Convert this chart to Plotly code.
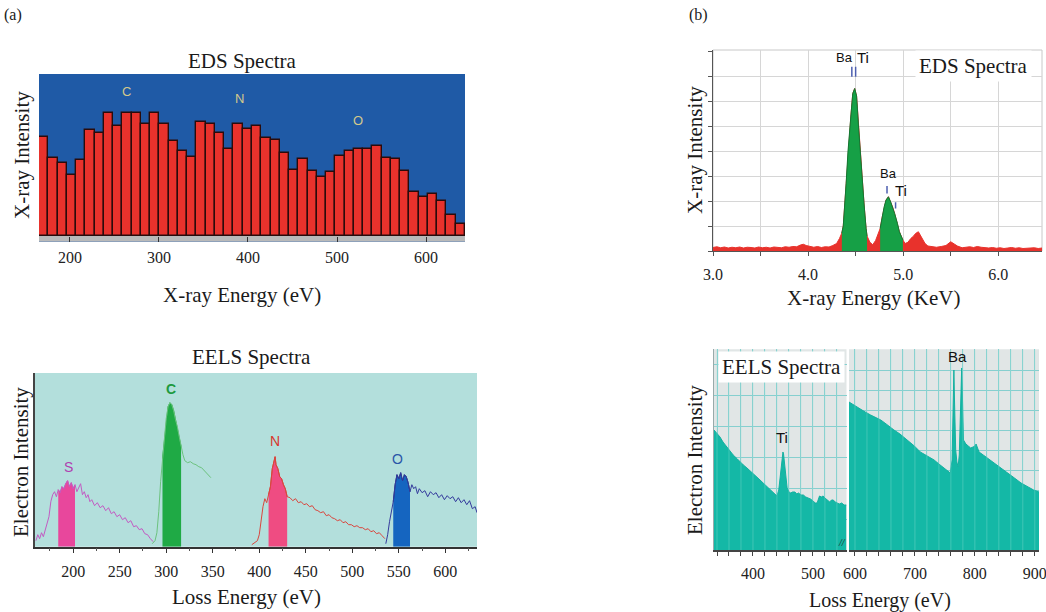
import plotly.graph_objects as go
import numpy as np

W, H = 1046, 612
SERIF = "Liberation Serif"
SANS = "Liberation Sans"

# ---------------- (a) EDS bars ----------------
eds_a_energy = [170.5, 180.9, 191.3, 201.7, 212.1, 222.5, 232.9, 243.3, 253.7, 264.1,
                274.5, 284.9, 295.3, 305.7, 316.1, 326.5, 336.9, 347.3, 357.7, 368.1,
                378.5, 388.9, 399.3, 409.7, 420.1, 430.5, 440.9, 451.3, 461.7, 472.1,
                482.5, 492.9, 503.3, 513.7, 524.1, 534.5, 544.9, 555.3, 565.7, 576.1,
                586.5, 596.9, 607.3, 617.7, 628.1, 638.5]
eds_a_counts = [61.2, 48, 44.7, 37.3, 46.8, 65.4, 63.3, 75.7, 67.8, 75.7,
                75.7, 69, 75.7, 69, 58.8, 52.6, 48.5, 70.1, 69.3, 63.3,
                53.4, 69, 66.3, 67.7, 60.5, 59, 51.3, 40.6, 47.2, 40,
                36.4, 39.5, 49.5, 52.2, 53.4, 53.8, 55.5, 47.8, 47.6, 40,
                26.9, 23.8, 26, 21.3, 12.6, 7.2]
eds_a_labels = ["C", "N", "O"]
eds_a_label_x = [264, 390, 524]
eds_a_label_y = [89, 85, 71]

# ---------------- (a) EELS curves ----------------
S_x = [160,162,164,166,168,170,172,174,176,178,180,182,184,186,188,190,192,194,196,198,200,202,204,206,208,210,212,214,216,218,220,223,226,229,232,235,238,241,244,247,250,253,256,259,262,265,268,271,274,277,280,283,286]
S_y = [6,12,8,14,10,16,22,30,45,52,55,50,57,54,60,58,63,66,60,64,58,62,55,60,63,52,55,49,52,45,47,41,44,39,41,36,39,33,35,30,32,27,29,24,26,20,21,17,18,13,12,8,5]
C_x = [285,288,290,292,294,296,298,300,302,304,306,308,310,312,314,316,318,320,323,326,329,332,335,338,341,344,348]
C_y = [3,6,14,35,65,88,105,128,140,144,142,136,127,120,110,100,92,86,84,85,83,82,80,79,76,74,69]
N_x = [392,395,398,400,402,404,406,408,410,412,414,416,417,418,420,422,424,426,428,430,433,436,439,442,445,448,451,454,457,460,463,466,469,472,475,478,481,484,487,490,493,496,499,502,505,508,511,514,517,520,523,526,529,532,535]
N_y = [2,4,6,12,28,40,48,44,52,60,78,86,90,82,78,70,68,62,58,50,49,46,48,44,45,42,43,40,41,37,36,34,35,31,32,29,28,26,27,24,25,22,22,20,21,19,19,17,18,15,16,13,14,11,8]
O_x = [536,538,540,542,544,546,548,550,552,554,556,558,560,562,564,566,568,570,572,575,578,581,584,587,590,593,596,599,602,605,608,611,614,617,620,623,626,629,632,634]
O_y = [3,12,25,35,45,62,72,68,74,66,72,70,64,55,62,58,60,53,58,54,56,50,55,52,54,49,52,47,51,48,50,45,49,44,47,42,46,38,40,34]
eels_a_edges = {"S": (183, 203), "C": (296, 316), "N": (410, 430), "O": (543, 563)}
eels_a_label_pos = {"S": (194.6, 80), "C": (304.8, 158), "N": (417, 106), "O": (549, 88)}

# ---------------- (b) EDS spectrum ----------------
eds_b_kev = [3.00,3.04,3.08,3.12,3.16,3.20,3.24,3.28,3.32,3.36,3.40,3.44,3.48,3.52,3.56,3.60,3.64,3.68,3.72,3.76,
             3.80,3.84,3.88,3.92,3.95,3.98,4.02,4.06,4.10,4.14,4.18,4.22,4.26,4.30,4.33,4.355,4.37,4.40,4.42,4.45,
             4.47,4.49,4.51,4.53,4.55,4.57,4.59,4.61,4.62,4.65,4.68,4.71,4.74,4.758,4.78,4.80,4.82,4.845,4.87,4.89,
             4.91,4.94,4.96,4.997,5.02,5.05,5.08,5.11,5.13,5.16,5.18,5.20,5.23,5.26,5.30,5.35,5.40,5.45,5.50,5.53,
             5.57,5.62,5.66,5.70,5.74,5.78,5.82,5.86,5.90,5.94,5.98,6.02,6.06,6.10,6.14,6.18,6.22,6.26,6.30,6.34,
             6.38,6.42,6.46]
eds_b_counts = [0.14,0.17,0.13,0.16,0.12,0.15,0.13,0.16,0.12,0.15,0.14,0.12,0.16,0.13,0.15,0.12,0.16,0.14,0.13,0.17,
                0.15,0.18,0.17,0.24,0.27,0.22,0.17,0.15,0.18,0.14,0.17,0.16,0.22,0.30,0.50,0.72,1.0,2.7,4.0,5.4,
                6.3,6.5,6.2,5.0,3.8,2.7,1.8,0.9,0.6,0.35,0.25,0.42,0.75,0.9,1.37,1.77,2.04,2.17,1.95,1.75,
                1.5,1.1,0.77,0.44,0.30,0.35,0.50,0.60,0.70,0.77,0.65,0.50,0.30,0.20,0.17,0.15,0.18,0.22,0.37,0.30,
                0.20,0.13,0.15,0.17,0.14,0.18,0.15,0.13,0.12,0.14,0.11,0.13,0.10,0.12,0.14,0.11,0.13,0.10,0.12,0.11,
                0.13,0.10,0.12]
eds_b_peak_windows = [(4.355, 4.62), (4.758, 4.997)]
eds_b_marks = [("Ba", 4.46, 6.97, 7.37, 4.385, 7.75), ("Ti", 4.50, 6.97, 7.37, 4.58, 7.75),
               ("Ba", 4.83, 2.3, 2.6, 4.85, 3.1), ("Ti", 4.92, 1.7, 1.95, 4.975, 2.42)]

# ---------------- (b) EELS spectrum (broken axis) ----------------
eels_b_left_x = [335,340,345,350,356,362,367,374,380,384,390,395,400,405,410,417,424,430,434,437,440,443,445,447,449,450,451,453,455,457,
                 460,463,466,470,473,476,480,484,488,492,496,500,504,507,509,511,514,517,520,524,528,531,534,537,540,544,548,552,556]
eels_b_left_y = [120,117,113,108,103,99,95,91,87,85,82,79,77,74,71,67,63,59,57,55,54,60,70,83,95,98,96,83,70,62,
                 58,57,58,58,56,57,55,55,53,52,51,49,47,47,52,54,53,54,52,50,48,50,50,48,47,46,47,45,45]
eels_b_right_x = [590,595,600,605,610,617,626,635,643,652,660,665,675,688,699,709,720,732,740,749,755,759,762,764,765,766,768,770,772,774,
                  776,777,778,779,781,783,785,789,793,797,800,802,804,807,814,821,830,843,855,866,877,888,898,907]
eels_b_right_y = [148,146,144,142,140,138,135,132,130,126,122,120,116,110,104,98,94,90,86,82,79,77,90,150,180,150,100,88,83,95,
                  140,170,182,160,110,108,106,104,102,103,104,106,103,98,95,92,88,82,77,72,67,63,60,58]
eels_b_ticks_left = [340,360,380,400,420,440,460,480,500,520,540]
eels_b_ticks_right = [600,620,640,660,680,700,720,740,760,780,800,820,840,860,880,900]

# ---------------- helpers ----------------
def dx(a, b):
    return [a / W, b / W]

def dy(top, bottom):
    return [1 - bottom / H, 1 - top / H]

def px(x):
    return x / W

def py(y):
    return 1 - y / H

fig = go.Figure()

# (a) EDS bars
fig.add_trace(go.Bar(x=eds_a_energy, y=eds_a_counts, width=10.4,
                     marker=dict(color="#e8322c", line=dict(color="#2a0b0b", width=1.4)),
                     xaxis="x", yaxis="y", showlegend=False))

# (a) EELS
eels_series = [("S", S_x, S_y, "#c25bc2", "#e8479c", "#e8479c"),
               ("C", C_x, C_y, "#6cc27e", "#1faa45", "#1faa45"),
               ("N", N_x, N_y, "#d9463e", "#ef4c82", "#d9463e"),
               ("O", O_x, O_y, "#343a9c", "#1565c0", "#1d2f80")]
for name, xs, ys, lc, fc, oc in eels_series:
    xs = np.array(xs, float); ys = np.array(ys, float)
    lo, hi = eels_a_edges[name]
    m = (xs >= lo) & (xs <= hi)
    fig.add_trace(go.Scatter(x=xs[m], y=ys[m], mode="lines", fill="tozeroy",
                             fillcolor=fc, line=dict(color=oc, width=1),
                             xaxis="x2", yaxis="y2", showlegend=False))
    fig.add_trace(go.Scatter(x=xs, y=ys, mode="lines", line=dict(color=lc, width=1),
                             xaxis="x2", yaxis="y2", showlegend=False))

# (b) EDS
kev = np.array(eds_b_kev); cnt = np.array(eds_b_counts)
fig.add_trace(go.Scatter(x=kev, y=cnt, mode="lines", fill="tozeroy", fillcolor="#e8322c",
                         line=dict(color="#e8322c", width=1), xaxis="x3", yaxis="y3", showlegend=False))
for lo, hi in eds_b_peak_windows:
    m = (kev >= lo) & (kev <= hi)
    fig.add_trace(go.Scatter(x=kev[m], y=cnt[m], mode="lines", fill="tozeroy", fillcolor="#16a046",
                             line=dict(color="#0f7a33", width=1), xaxis="x3", yaxis="y3", showlegend=False))

# (b) EELS broken axis
fig.add_trace(go.Scatter(x=eels_b_left_x, y=eels_b_left_y, mode="lines", fill="tozeroy",
                         fillcolor="#14b8a6", line=dict(color="#14b0a0", width=1),
                         xaxis="x4", yaxis="y4", showlegend=False))
fig.add_trace(go.Scatter(x=eels_b_right_x, y=eels_b_right_y, mode="lines", fill="tozeroy",
                         fillcolor="#14b8a6", line=dict(color="#14b0a0", width=1),
                         xaxis="x5", yaxis="y5", showlegend=False))

tickfont = dict(family=SERIF, size=16, color="#222")
common = dict(automargin=False, zeroline=False, ticklabeloverflow="allow")

layout = dict(
    width=W, height=H, margin=dict(l=0, r=0, t=0, b=0, autoexpand=False),
    paper_bgcolor="white", plot_bgcolor="white", showlegend=False, bargap=0,
    xaxis=dict(domain=dx(39, 465), range=[165.3, 643.7], tickvals=[200, 300, 400, 500, 600],
               ticks="inside", ticklen=5, tickcolor="#333", showgrid=False,
               showline=False, tickfont=tickfont, ticklabelstandoff=4, anchor="y", **common),
    yaxis=dict(domain=dy(74, 241.7), range=[-3.7, 100], showticklabels=False, showgrid=False,
               showline=False, anchor="x", **common),
    xaxis2=dict(domain=dx(35, 477), range=[159, 634], tickvals=[200, 250, 300, 350, 400, 450, 500, 550, 600],
                ticks="outside", ticklen=5, tickcolor="#333", showgrid=False,
                showline=True, linecolor="#333", linewidth=1.5, tickfont=tickfont, ticklabelstandoff=4,
                minor=dict(dtick=25, tick0=0, ticks="outside", ticklen=3, tickcolor="#555"), anchor="y2", **common),
    yaxis2=dict(domain=dy(373, 546.7), range=[0, 173.7], showticklabels=False, showgrid=False,
                showline=True, linecolor="#444", linewidth=1.5, anchor="x2", **common),
    xaxis3=dict(domain=dx(713, 1042), range=[3.0, 6.46],
                tickvals=[3.0, 3.5, 4.0, 4.5, 5.0, 5.5, 6.0],
                ticktext=["3.0", "", "4.0", "", "5.0", "", "6.0"],
                ticks="outside", ticklen=4, tickcolor="#555", showgrid=True, gridcolor="#d6d6d6",
                showline=True, linecolor="#555", tickfont=tickfont, ticklabelstandoff=5,
                anchor="y3", **common),
    yaxis3=dict(domain=dy(50, 251), range=[0, 8.04], dtick=1, tick0=0, showticklabels=False,
                ticks="outside", ticklen=4, tickcolor="#555", showgrid=True, gridcolor="#d6d6d6",
                showline=True, linecolor="#555", anchor="x3", **common),
    xaxis4=dict(domain=dx(714, 846.5), range=[335, 556], tickvals=eels_b_ticks_left,
                ticktext=[str(v) if v % 100 == 0 else "" for v in eels_b_ticks_left],
                ticks="outside", ticklen=4, tickcolor="#444", showgrid=True, gridcolor="#86cfcf",
                showline=True, linecolor="#444", linewidth=1.5, tickfont=tickfont,
                ticklabelstandoff=4, anchor="y4", **common),
    yaxis4=dict(domain=dy(349.3, 550), range=[0, 200.7], dtick=31, tick0=0, showticklabels=False,
                ticks="", showgrid=True, gridcolor="#86cfcf", showline=True,
                linecolor="#9aa", anchor="x4", **common),
    xaxis5=dict(domain=dx(849, 1039), range=[590, 907], tickvals=eels_b_ticks_right,
                ticktext=[str(v) if v % 100 == 0 else "" for v in eels_b_ticks_right],
                ticks="outside", ticklen=4, tickcolor="#444", showgrid=True, gridcolor="#86cfcf",
                showline=True, linecolor="#444", linewidth=1.5, tickfont=tickfont,
                ticklabelstandoff=4, anchor="y5", **common),
    yaxis5=dict(domain=dy(349.3, 550), range=[0, 200.7], dtick=20, tick0=0, showticklabels=False,
                ticks="", showgrid=True, gridcolor="#86cfcf", showline=False, anchor="x5", **common),
)
fig.update_layout(**layout)

shapes = [
    dict(type="rect", xref="x domain", yref="y domain", x0=0, x1=1, y0=0, y1=1, fillcolor="#1f5aa6",
         line=dict(width=0), layer="below"),
    dict(type="rect", xref="x", yref="y", x0=165.3, x1=643.7, y0=-3.7, y1=0, fillcolor="#b9b9b9",
         line=dict(width=0), layer="below"),
    dict(type="rect", xref="x2 domain", yref="y2 domain", x0=0, x1=1, y0=0, y1=1, fillcolor="#b3dfdc",
         line=dict(width=0), layer="below"),
    dict(type="rect", xref="x4 domain", yref="y4 domain", x0=0, x1=1, y0=0, y1=1, fillcolor="#e1e6e6",
         line=dict(width=0), layer="below"),
    dict(type="rect", xref="x5 domain", yref="y5 domain", x0=0, x1=1, y0=0, y1=1, fillcolor="#e1e6e6",
         line=dict(width=0), layer="below"),
    dict(type="rect", xref="x3 domain", yref="y3 domain", x0=0, x1=1, y0=0, y1=1,
         line=dict(color="#c8c8c8", width=1), layer="below"),
]
# faint vertical grid stripes visible through the EELS fill
for ax, ticks in (("4", eels_b_ticks_left), ("5", eels_b_ticks_right)):
    for v in ticks:
        shapes.append(dict(type="line", xref="x" + ax, yref="y%s domain" % ax, x0=v, x1=v, y0=0, y1=1,
                           line=dict(color="rgba(150,225,215,0.35)", width=1), layer="above"))
for name, x, y0, y1, lx, ly in eds_b_marks:
    shapes.append(dict(type="line", xref="x3", yref="y3", x0=x, x1=x, y0=y0, y1=y1,
                       line=dict(color="#4d5fb0", width=1.5)))
fig.update_layout(shapes=shapes)

ann = []
def text(x, y, s, size=21, family=SERIF, color="#1a1a1a", **kw):
    ann.append(dict(x=px(x), y=py(y), xref="paper", yref="paper", text=s, showarrow=False,
                    font=dict(family=family, size=size, color=color), xanchor="center", yanchor="middle", **kw))

text(13, 15, "(a)", size=16)
text(698, 15, "(b)", size=16)
text(242, 61, "EDS Spectra")
text(251, 357, "EELS Spectra")
text(242, 295, "X-ray Energy (eV)")
text(246, 597, "Loss Energy (eV)")
text(22, 155, "X-ray Intensity", textangle=-90)
text(21, 462, "Electron Intensity", textangle=-90)
text(873, 298, "X-ray Energy (KeV)")
text(880, 600, "Loss Energy (eV)", size=20)
text(695, 150, "X-ray Intensity", textangle=-90)
text(695, 460, "Electron Intensity", textangle=-90)
text(973, 66, "EDS Spectra", bgcolor="white", borderpad=3)
text(781, 367, "EELS Spectra", bgcolor="white", borderpad=3)

for s, x, y in zip(eds_a_labels, eds_a_label_x, eds_a_label_y):
    ann.append(dict(x=x, y=y, xref="x", yref="y", text=s, showarrow=False,
                    font=dict(family=SANS, size=13, color="#d2c98c")))
eels_label_colors = {"S": "#b040b0", "C": "#1e9a40", "N": "#d8382e", "O": "#2a56a8"}
for s, (x, y) in eels_a_label_pos.items():
    ann.append(dict(x=x, y=y, xref="x2", yref="y2", text=("<b>%s</b>" % s) if s == "C" else s, showarrow=False,
                    font=dict(family=SANS, size=14, color=eels_label_colors[s])))
for name, x, y0, y1, lx, ly in eds_b_marks:
    ann.append(dict(x=lx, y=ly, xref="x3", yref="y3", text=name, showarrow=False,
                    font=dict(family=SANS, size=15 if name == "Ti" else 13, color="#111")))
ann.append(dict(x=448, y=112, xref="x4", yref="y4", text="Ti", showarrow=False,
                font=dict(family=SANS, size=15, color="#111")))
ann.append(dict(x=771, y=193, xref="x5", yref="y5", text="Ba", showarrow=False,
                font=dict(family=SANS, size=15, color="#111")))
ann.append(dict(x=px(847.5), y=py(550), xref="paper", yref="paper", text="<i>//</i>", showarrow=False,
                font=dict(family=SERIF, size=10, color="#222")))
fig.update_layout(annotations=ann)

fig.write_html("out.html")
